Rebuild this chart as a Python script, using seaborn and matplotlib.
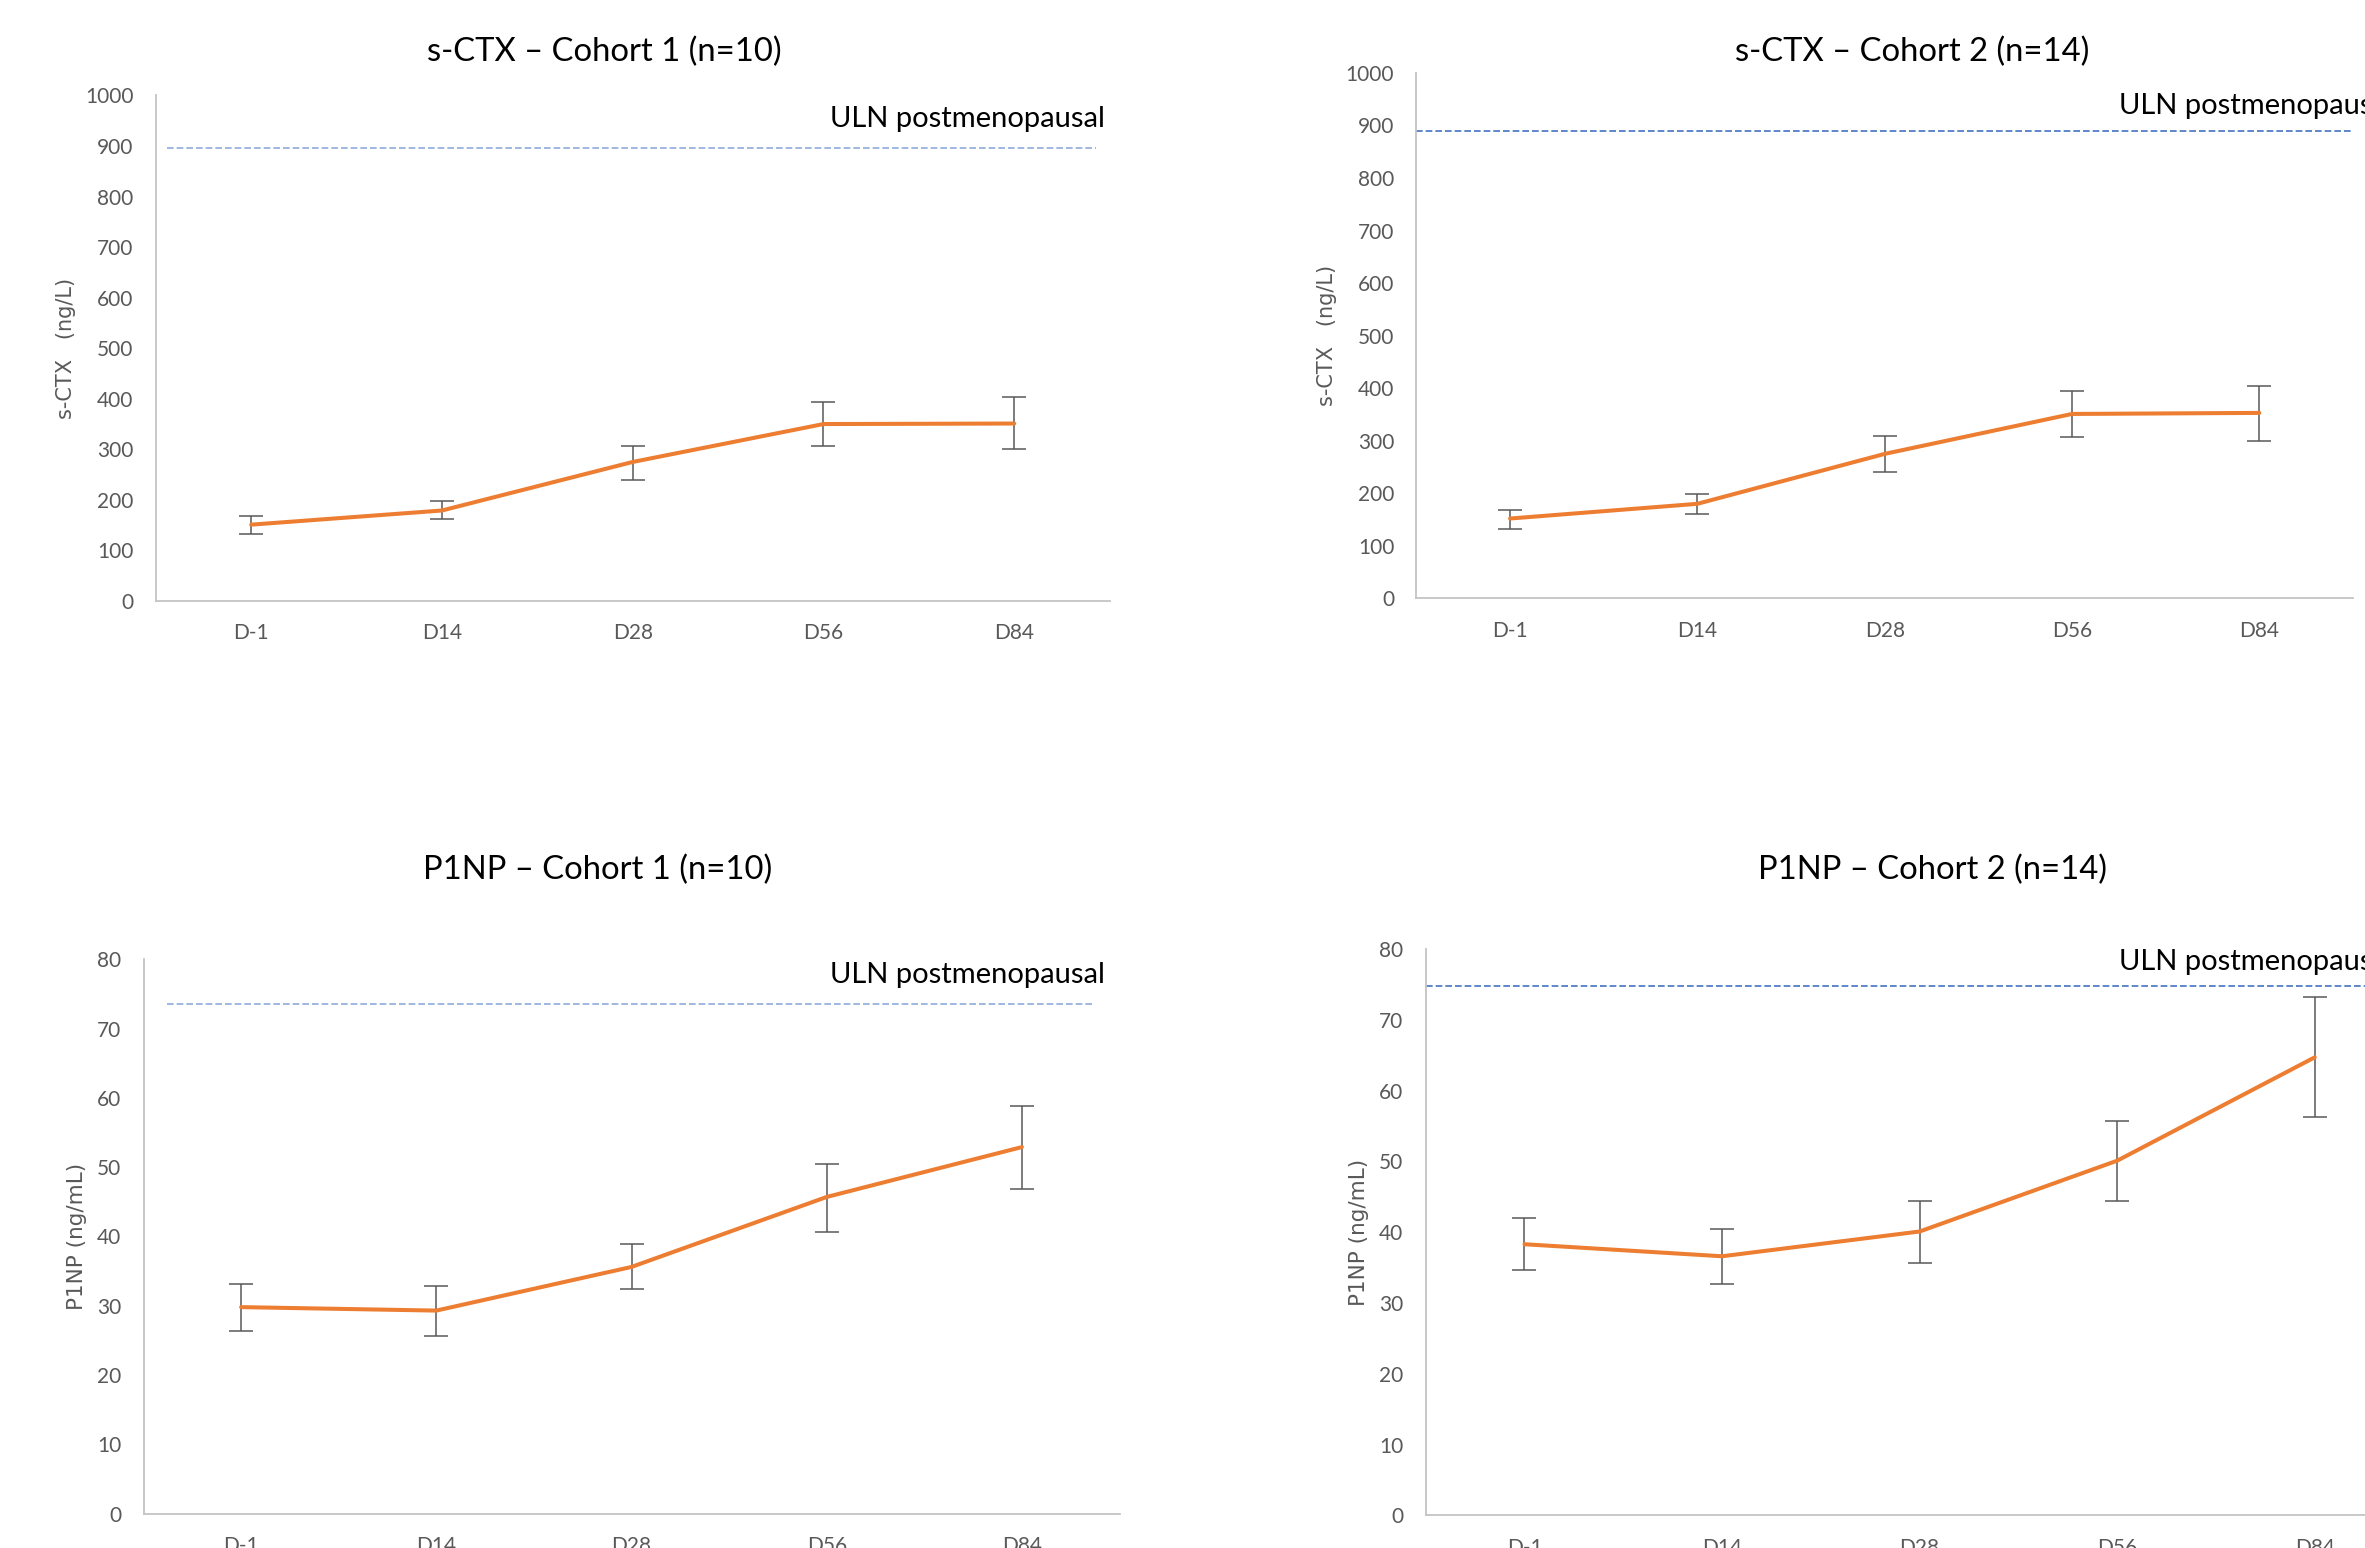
import numpy as np
import pandas as pd
import matplotlib
matplotlib.use("Agg")
import matplotlib.pyplot as plt
import seaborn as sns

# ---------------- data ----------------
visits = ["D-1", "D14", "D28", "D56", "D84"]

ctx_c1_mean = [151, 179, 275, 350, 351]
ctx_c1_low = [132, 162, 240, 306, 300]
ctx_c1_high = [168, 197, 307, 394, 404]
ctx_c1_uln = 895

ctx_c2_mean = [152, 180, 275, 351, 353]
ctx_c2_low = [133, 161, 241, 307, 300]
ctx_c2_high = [168, 199, 309, 395, 405]
ctx_c2_uln = 890

p1np_c1_mean = [29.8, 29.3, 35.6, 45.7, 52.9]
p1np_c1_low = [26.4, 25.7, 32.4, 40.7, 46.9]
p1np_c1_high = [33.2, 32.9, 38.9, 50.5, 58.8]
p1np_c1_uln = 73.6

p1np_c2_mean = [38.3, 36.6, 40.1, 50.1, 64.7]
p1np_c2_low = [34.7, 32.7, 35.7, 44.4, 56.3]
p1np_c2_high = [42.0, 40.5, 44.4, 55.7, 73.2]
p1np_c2_uln = 74.8

titles = ["s-CTX \u2013 Cohort 1 (n=10)", "s-CTX \u2013 Cohort 2 (n=14)",
          "P1NP \u2013 Cohort 1 (n=10)", "P1NP \u2013 Cohort 2 (n=14)"]
ylabels = ["s-CTX   (ng/L)", "s-CTX   (ng/L)", "P1NP (ng/mL)", "P1NP (ng/mL)"]
uln_label = "ULN postmenopausal"

# ---------------- style ----------------
sns.set_theme(style="white")
plt.rcParams["font.family"] = ["Lato", "DejaVu Sans"]

W, H = 2365, 1548
fig = plt.figure(figsize=(W / 100, H / 100), dpi=100)
fig.patch.set_facecolor("white")

ORANGE = "#ED7D31"
GREY = "#595959"
AXIS = "#C4C4C4"

panels = [
    dict(box=(155.8, 1109.6, 95.4, 601.0), mean=ctx_c1_mean, low=ctx_c1_low, high=ctx_c1_high,
         uln=ctx_c1_uln, ylim=(0, 1000), step=100, uln_x=(-0.44, 4.43), uln_col="#8FAADC",
         title_xy=(604, 52), ylab_x=76, uln_txt=(1105, 119, "right"), ylab_size=15),
    dict(box=(1416.4, 2353.0, 72.9, 598.4), mean=ctx_c2_mean, low=ctx_c2_low, high=ctx_c2_high,
         uln=ctx_c2_uln, ylim=(0, 1000), step=100, uln_x=(-0.5, 4.5), uln_col="#4472C4",
         title_xy=(1912, 52), ylab_x=1337, uln_txt=(2119, 106, "left"), ylab_size=15),
    dict(box=(143.5, 1119.5, 959.3, 1513.6), mean=p1np_c1_mean, low=p1np_c1_low, high=p1np_c1_high,
         uln=p1np_c1_uln, ylim=(0, 80), step=10, uln_x=(-0.38, 4.37), uln_col="#8FAADC",
         title_xy=(598, 870), ylab_x=87, uln_txt=(1105, 975, "right"), ylab_size=15.5),
    dict(box=(1425.7, 2413.5, 949.0, 1515.4), mean=p1np_c2_mean, low=p1np_c2_low, high=p1np_c2_high,
         uln=p1np_c2_uln, ylim=(0, 80), step=10, uln_x=(-0.5, 4.5), uln_col="#4472C4",
         title_xy=(1933, 870), ylab_x=1369, uln_txt=(2119, 962, "left"), ylab_size=15.5),
]

for i, p in enumerate(panels):
    l, r, t, b = p["box"]
    ax = fig.add_axes([l / W, 1 - b / H, (r - l) / W, (b - t) / H])
    ax.set_facecolor("white")
    df = pd.DataFrame({"visit": visits, "value": p["mean"],
                       "low": p["low"], "high": p["high"]})
    xs = np.arange(len(visits))
    yerr = np.vstack([df["value"] - df["low"], df["high"] - df["value"]])
    ax.errorbar(xs, df["value"], yerr=yerr, fmt="none", ecolor=GREY,
                elinewidth=1.1, capsize=8.5, capthick=1.1, zorder=2)
    sns.lineplot(data=df, x="visit", y="value", ax=ax, color=ORANGE,
                 linewidth=2.9, sort=False, zorder=3)
    ax.hlines(p["uln"], p["uln_x"][0], p["uln_x"][1], colors=p["uln_col"],
              linestyles=(0, (4, 1.8)), linewidth=1.2, zorder=1)

    ax.set_xlim(-0.5, 4.5)
    ax.set_ylim(*p["ylim"])
    ax.set_yticks(np.arange(p["ylim"][0], p["ylim"][1] + p["step"], p["step"]))
    ax.set_xticks(xs)
    ax.set_xticklabels(visits)
    ax.set_xlabel("")
    ax.set_ylabel(ylabels[i], family=["DejaVu Sans"], fontsize=p["ylab_size"], color=GREY)
    ax.yaxis.set_label_coords((p["ylab_x"] - l) / (r - l), 0.5)

    for s in ["top", "right"]:
        ax.spines[s].set_visible(False)
    for s in ["left", "bottom"]:
        ax.spines[s].set_color(AXIS)
        ax.spines[s].set_linewidth(1.3)
    ax.tick_params(axis="both", length=0, labelsize=15, labelcolor=GREY)
    ax.tick_params(axis="y", pad=16)
    ax.tick_params(axis="x", pad=16)
    ax.grid(False)

    fig.text(p["title_xy"][0] / W, 1 - p["title_xy"][1] / H, titles[i],
             ha="center", va="center", fontsize=23.6, color="black")
    ux, uy, ha = p["uln_txt"]
    fig.text(ux / W, 1 - uy / H, uln_label, ha=ha, va="center",
             fontsize=21, color="black")

fig.savefig("out.png", dpi=100, facecolor="white")
